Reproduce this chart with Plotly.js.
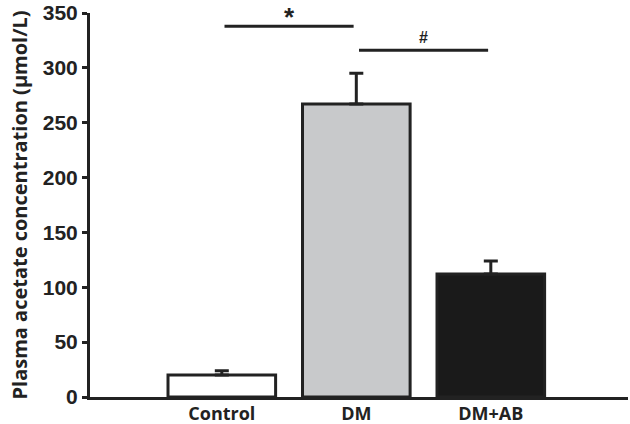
<!DOCTYPE html>
<html>
<head>
<meta charset="utf-8">
<script src="https://cdn.plot.ly/plotly-3.0.1.min.js"></script>
<style>
  html, body { margin: 0; padding: 0; background: #fff; }
  #graph { width: 630px; height: 424px; }
</style>
</head>
<body>
<div id="graph"></div>
<script>
const groups = ['Control', 'DM', 'DM+AB'];
const means = [20, 267, 112];
const errors = [4, 28, 12];
const barColors = ['#ffffff', '#c8c9cb', '#1a1a1a'];
const yTicks = [0, 50, 100, 150, 200, 250, 300, 350];

// significance brackets: [from, to, y, label]
const brackets = [
  [0.02, 0.98, 338, '*'],
  [1.02, 1.98, 316, '#']
];

function plotGraph() {
  const xs = groups.map((g, i) => i);

  const trace = {
    type: 'bar',
    x: xs,
    y: means,
    width: 0.8,
    marker: {
      color: barColors,
      line: { color: '#222', width: 3 }
    },
    error_y: {
      type: 'data',
      symmetric: false,
      array: errors,
      arrayminus: errors.map(() => 0),
      color: '#222',
      thickness: 3,
      width: 7
    },
    hoverinfo: 'skip'
  };

  const shapes = brackets.map(b => ({
    type: 'line', xref: 'x', yref: 'y',
    x0: b[0], x1: b[1], y0: b[2], y1: b[2],
    line: { color: '#222', width: 3 }
  }));

  const annotations = brackets.map(b => ({
    x: (b[0] + b[1]) / 2,
    y: b[2],
    xref: 'x', yref: 'y',
    text: b[3],
    showarrow: false,
    yanchor: 'bottom',
    yshift: b[3] === '*' ? -8 : 2,
    font: { family: 'Liberation Sans, Arial', size: b[3] === '*' ? 26 : 16, color: '#222', weight: 'bold' }
  }));

  const layout = {
    width: 630,
    height: 424,
    margin: { l: 90, r: 2, t: 13, b: 27 },
    paper_bgcolor: '#fff',
    plot_bgcolor: '#fff',
    showlegend: false,
    bargap: 0.2,
    xaxis: {
      range: [-0.98, 3.02],
      tickvals: xs,
      ticktext: groups,
      showgrid: false,
      zeroline: false,
      showline: true,
      linecolor: '#222',
      linewidth: 3,
      ticks: '',
      ticklabelstandoff: -2,
      ticklabeloverflow: 'allow',
      tickfont: { family: 'Open Sans', size: 18, color: '#222', weight: 'bold' }
    },
    yaxis: {
      range: [0, 350],
      tickvals: yTicks,
      showgrid: false,
      zeroline: false,
      showline: true,
      linecolor: '#222',
      linewidth: 3,
      ticks: 'outside',
      ticklen: 5,
      tickwidth: 3,
      tickcolor: '#222',
      ticklabeloverflow: 'allow',
      tickfont: { family: 'Liberation Sans, Arial', size: 21, color: '#222', weight: 'bold' },
      title: {
        text: 'Plasma acetate concentration (µmol/L)',
        font: { family: 'Open Sans', size: 20, color: '#222', weight: 'bold' },
        standoff: 10
      }
    },
    shapes: shapes,
    annotations: annotations
  };

  Plotly.newPlot('graph', [trace], layout, { displayModeBar: false, staticPlot: true });
}

plotGraph();
</script>
</body>
</html>
